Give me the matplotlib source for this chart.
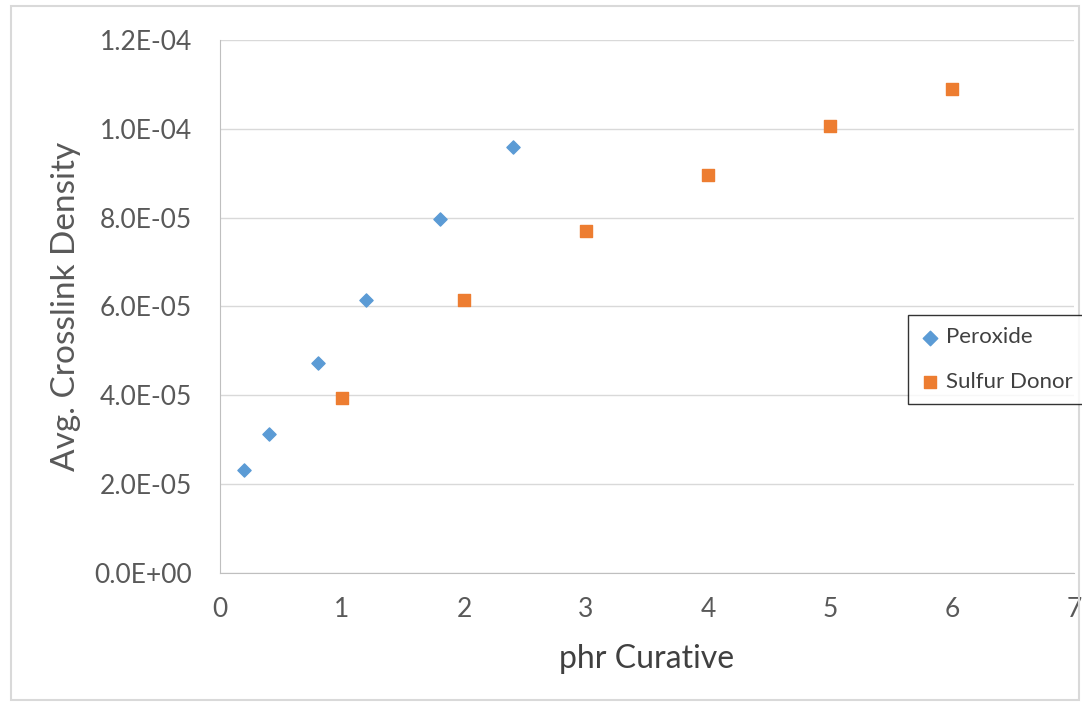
import matplotlib.pyplot as plt
from matplotlib.patches import Rectangle
from matplotlib.ticker import FuncFormatter

peroxide_x = [0.2, 0.4, 0.8, 1.2, 1.8, 2.4]
peroxide_y = [2.32e-5, 3.13e-5, 4.73e-5, 6.15e-5, 7.97e-5, 9.59e-5]
sulfur_x = [1, 2, 3, 4, 5, 6]
sulfur_y = [3.94e-5, 6.15e-5, 7.70e-5, 8.96e-5, 1.006e-4, 1.09e-4]

plt.rcParams['font.family'] = ['Lato', 'DejaVu Sans']

fig = plt.figure(figsize=(10.82, 7.05), dpi=100)
ax = fig.add_axes([0.2033, 0.1872, 0.7893, 0.7561])

ax.scatter(peroxide_x, peroxide_y, marker='D', s=45, color='#5B9BD5', label='Peroxide', zorder=3)
ax.scatter(sulfur_x, sulfur_y, marker='s', s=70, color='#ED7D31', label='Sulfur Donor', zorder=3)

ax.set_xlim(0, 7)
ax.set_ylim(0, 1.2e-4)
ax.set_xticks(range(8))
ax.set_yticks([i * 2e-5 for i in range(7)])
ax.yaxis.set_major_formatter(FuncFormatter(lambda v, p: f"{v:.1E}"))
ax.tick_params(length=0, labelsize=19, colors='#595959')
ax.tick_params(axis='x', pad=17)
ax.tick_params(axis='y', pad=20)
ax.grid(axis='y', color='#D9D9D9', linewidth=1)
ax.set_axisbelow(True)
for s in ['top', 'right']:
    ax.spines[s].set_visible(False)
for s in ['left', 'bottom']:
    ax.spines[s].set_color('#BFBFBF')

ax.set_xlabel('phr Curative', fontsize=23, color='#404040', labelpad=16)
ax.set_ylabel('Avg. Crosslink Density', fontsize=24, color='#595959', labelpad=10)

leg = fig.legend(loc='upper left', bbox_to_anchor=(0.839, 0.553), borderaxespad=0, fontsize=16,
                 frameon=True, fancybox=False, edgecolor='black', handletextpad=0.25,
                 labelspacing=1.1, borderpad=0.55, handlelength=0.9, scatterpoints=1,
                 markerscale=1.1)
leg.get_frame().set_linewidth(1)
for t in leg.get_texts():
    t.set_color('#404040')

fig.patches.append(Rectangle((11 / 1082, 5 / 705), 1068 / 1082, 694 / 705, transform=fig.transFigure,
                             fill=False, edgecolor='#D9D9D9', linewidth=1.5))

fig.savefig('out.png', dpi=100, facecolor='white')
